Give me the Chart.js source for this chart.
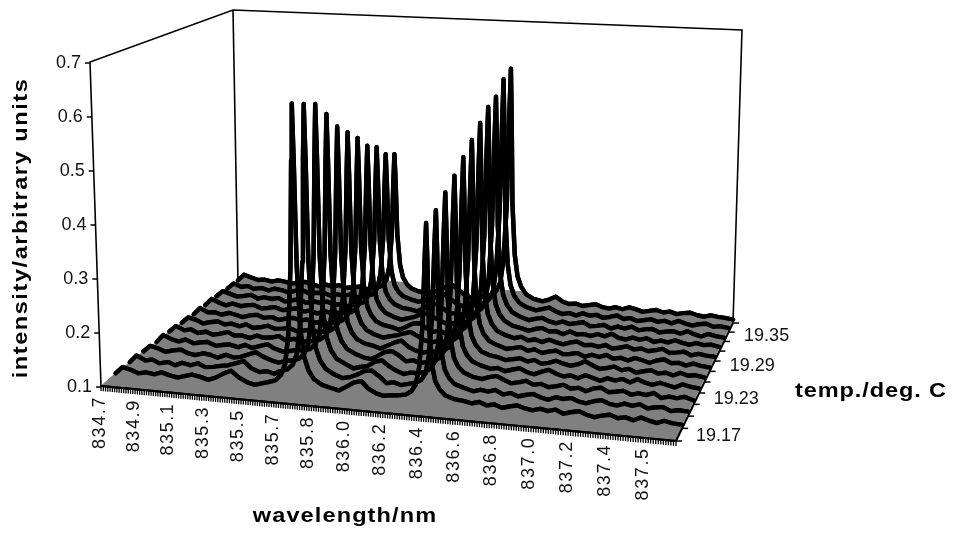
<!DOCTYPE html>
<html><head><meta charset="utf-8">
<style>html,body{margin:0;padding:0;background:#fff}canvas{display:block}</style>
<script src="https://cdn.jsdelivr.net/npm/chart.js@4"></script>
</head><body><canvas id="c" width="954" height="536"></canvas>
<script>
const wavelengths=[834.70,834.74,834.79,834.83,834.87,834.92,834.96,835.00,835.05,835.09,835.13,835.18,835.22,835.26,835.31,835.35,835.39,835.44,835.48,835.52,
835.55,835.595,835.625,835.648,835.666,835.683,835.693,835.70,835.707,835.717,835.734,835.752,835.775,835.805,835.85,
835.90,835.94,835.98,836.02,836.06,836.10,836.14,836.18,836.22,
836.255,836.30,836.33,836.353,836.371,836.388,836.398,836.405,836.412,836.422,836.439,836.457,836.48,836.51,836.555,
836.61,836.65,836.69,836.73,836.77,836.81,836.85,836.89,836.93,836.97,837.01,837.05,837.09,837.13,837.17,837.21,837.25,837.29,837.33,837.37,837.41,837.45,837.49,837.53,837.57,837.61,837.65,837.69,837.74];
const temperatures=[19.17,19.19,19.21,19.23,19.25,19.27,19.29,19.31,19.33,19.35,19.37,19.39];
const wavelengthTicks=["834.7","834.9","835.1","835.3","835.5","835.7","835.8","836.0","836.2","836.4","836.6","836.8","837.0","837.2","837.4","837.5"];
const temperatureTicks=["19.17",null,null,"19.23",null,null,"19.29",null,null,"19.35",null,null];
const intensityTicks=[0.1,0.2,0.3,0.4,0.5,0.6,0.7];

const row00=[.1,.1,.1,.1,.1,.1,.1,.1,.1,.1,.1,.1,.1,.1,.1,.1,.1,.1,.1,.1,.1,.1,
.1,.1,.1,.1,.1,.1,.1,.1,.1,.1,.1,.1,.1,.1,.1,.1,.1,.1,.1,.1,.1,.1,
.1,.1,.1,.1,.1,.1,.1,.1,.1,.1,.1,.1,.1,.1,.1,.1,.1,.1,.1,.1,.1,.1,
.1,.1,.1,.1,.1,.1,.1,.1,.1,.1,.1,.1,.1,.1,.1,.1,.1,.1,.1,.1,.1,.1];
const row01=[.103,.116,.112,.107,.110,.108,.113,.109,.106,.110,.114,.111,.107,.112,.122,.128,.117,.109,.106,.110,
.113,.118,.129,.15,.202,.328,.526,.631,.526,.328,.213,.166,.142,.126,.117,
.113,.110,.118,.127,.131,.118,.111,.108,.110,
.111,.114,.121,.134,.166,.242,.364,.428,.364,.242,.172,.143,.129,.119,.114,
.112,.109,.113,.108,.111,.106,.110,.113,.109,.107,.111,.108,.112,.106,.110,.113,.108,.105,.109,.112,.107,.110,.106,.112,.108,.105,.110,.107,.106];
const row02=[.104,.118,.110,.113,.107,.111,.106,.112,.109,.114,.108,.110,.113,.115,.121,.126,.114,.108,.111,.107,
.113,.118,.128,.149,.2,.322,.516,.618,.516,.322,.21,.164,.141,.126,.117,
.111,.114,.120,.128,.130,.121,.109,.112,.108,
.111,.115,.121,.134,.167,.246,.37,.436,.37,.246,.174,.144,.129,.119,.114,
.109,.113,.111,.115,.108,.112,.107,.111,.114,.109,.106,.112,.110,.113,.108,.106,.111,.114,.109,.107,.112,.109,.113,.107,.110,.112,.106,.109,.108];
const row03=[.105,.117,.113,.108,.112,.115,.109,.107,.112,.110,.106,.113,.109,.111,.118,.123,.116,.110,.107,.112,
.113,.118,.128,.148,.198,.317,.506,.606,.506,.317,.208,.163,.14,.125,.117,
.109,.113,.116,.125,.129,.119,.112,.107,.111,
.111,.115,.122,.136,.17,.253,.385,.454,.385,.253,.177,.146,.13,.12,.114,
.111,.116,.119,.113,.108,.111,.115,.109,.112,.107,.110,.114,.108,.111,.106,.112,.115,.108,.110,.113,.107,.111,.109,.114,.106,.110,.108,.112,.107];
const row04=[.104,.119,.112,.109,.114,.108,.111,.113,.107,.110,.112,.108,.114,.109,.115,.119,.112,.107,.110,.113,
.113,.117,.127,.145,.192,.304,.482,.575,.482,.304,.201,.159,.138,.124,.116,
.110,.108,.115,.124,.127,.120,.110,.113,.109,
.112,.115,.123,.137,.173,.26,.398,.471,.398,.26,.181,.148,.132,.121,.115,
.110,.113,.108,.112,.116,.110,.107,.113,.118,.112,.108,.111,.107,.114,.110,.106,.112,.109,.113,.108,.115,.110,.107,.112,.109,.106,.113,.110,.108];
const row05=[.106,.118,.111,.114,.108,.112,.107,.110,.115,.109,.111,.107,.113,.110,.112,.116,.109,.113,.108,.111,
.112,.117,.125,.142,.185,.289,.452,.538,.452,.289,.194,.155,.136,.123,.116,
.113,.109,.116,.123,.128,.117,.111,.108,.112,
.112,.116,.123,.139,.177,.27,.416,.493,.416,.27,.185,.15,.133,.121,.115,
.112,.108,.111,.114,.109,.113,.107,.110,.115,.111,.108,.112,.119,.113,.107,.110,.114,.108,.112,.106,.110,.113,.108,.111,.107,.113,.109,.111,.108];
const row06=[.105,.117,.113,.107,.111,.114,.109,.112,.108,.113,.107,.110,.114,.109,.111,.113,.108,.111,.114,.109,
.112,.116,.124,.14,.181,.279,.433,.514,.433,.279,.189,.153,.134,.122,.115,
.110,.114,.117,.122,.126,.119,.112,.109,.113,
.112,.116,.124,.14,.181,.278,.432,.513,.432,.278,.189,.153,.134,.122,.115,
.109,.112,.115,.109,.113,.107,.111,.114,.108,.110,.113,.107,.112,.109,.114,.108,.111,.107,.113,.110,.106,.112,.115,.109,.111,.107,.112,.109,.107];
const row07=[.104,.118,.110,.112,.108,.113,.110,.107,.112,.114,.109,.112,.107,.111,.114,.110,.113,.108,.111,.107,
.112,.116,.123,.139,.177,.268,.414,.49,.414,.268,.184,.15,.133,.121,.115,
.112,.108,.115,.123,.125,.116,.110,.113,.108,
.112,.117,.125,.142,.185,.287,.449,.534,.449,.287,.193,.155,.136,.123,.116,
.111,.115,.109,.112,.108,.114,.110,.107,.112,.115,.109,.111,.108,.113,.107,.110,.114,.109,.112,.108,.111,.115,.108,.110,.113,.107,.111,.109,.108];
const row08=[.105,.119,.112,.108,.113,.109,.112,.114,.108,.110,.113,.108,.111,.114,.109,.112,.107,.113,.110,.112,
.112,.115,.122,.136,.172,.256,.39,.461,.39,.256,.179,.147,.131,.12,.114,
.109,.113,.117,.124,.127,.118,.112,.108,.111,
.112,.117,.126,.144,.188,.295,.465,.554,.465,.295,.197,.157,.137,.124,.116,
.112,.108,.113,.116,.110,.112,.107,.114,.109,.111,.108,.113,.110,.116,.109,.107,.112,.109,.113,.107,.111,.108,.114,.110,.107,.112,.109,.111,.108];
const row09=[.106,.118,.113,.109,.111,.115,.108,.112,.110,.113,.107,.111,.114,.108,.112,.110,.114,.109,.111,.108,
.111,.115,.121,.135,.169,.25,.378,.445,.378,.25,.175,.145,.13,.12,.114,
.112,.109,.116,.125,.128,.119,.110,.113,.109,
.113,.117,.126,.144,.19,.299,.472,.563,.472,.299,.199,.158,.138,.124,.116,
.110,.114,.117,.111,.108,.113,.109,.112,.115,.108,.110,.113,.107,.112,.109,.114,.108,.111,.113,.107,.110,.112,.108,.114,.109,.106,.112,.109,.107];
const row10=[.105,.117,.111,.114,.109,.112,.108,.113,.111,.107,.112,.114,.109,.111,.113,.108,.112,.110,.114,.109,
.111,.114,.12,.133,.164,.238,.355,.417,.355,.238,.17,.142,.128,.119,.114,
.110,.114,.118,.126,.130,.120,.111,.108,.112,
.113,.118,.127,.146,.194,.31,.492,.588,.492,.31,.204,.161,.139,.125,.117,
.112,.116,.120,.113,.109,.112,.108,.114,.110,.113,.108,.111,.115,.109,.112,.107,.110,.113,.109,.112,.108,.114,.110,.107,.111,.113,.108,.110,.108];
const row11=[.106,.119,.114,.110,.112,.109,.113,.111,.108,.112,.114,.110,.107,.112,.109,.113,.108,.111,.113,.109,
.111,.114,.12,.132,.161,.232,.345,.404,.345,.232,.167,.141,.127,.118,.113,
.112,.115,.120,.128,.132,.122,.112,.109,.113,
.113,.118,.128,.147,.196,.314,.501,.599,.501,.314,.206,.162,.14,.125,.117,
.113,.118,.125,.116,.112,.114,.110,.113,.116,.111,.109,.113,.110,.115,.112,.108,.111,.114,.110,.113,.109,.112,.114,.110,.108,.112,.110,.109,.107];
const rows=[row00,row01,row02,row03,row04,row05,row06,row07,row08,row09,row10,row11];

// Projection of (wavelength, temperature row, intensity) onto the picture plane.
const frame={fl:[101,386],fr:[676,441],bl:[238,283],br:[733,323],tfl:[90,62],tfr:[687,93],tbl:[233,10],tbr:[742,30]};
const nmMin=834.7,nmSpan=3.04,rowMax=11,valMin=.1,valSpan=.6,depthK=.2,widthK=.055,bandTop=.13;
function mix(a,b,t){return a+(b-a)*t}
function plane(a,b,c,d,u,v,i){return mix(mix(a[i],b[i],u),mix(c[i],d[i],u),v)}
function project(nm,row,val){
  const t=(nm-nmMin)/nmSpan, u=t*(1-widthK)/(1-widthK*t);
  const r=row/rowMax, v=r*(1+depthK)/(1+depthK*r);
  const h=(val-valMin)/valSpan, f=frame, out=[];
  for(const i of [0,1]){
    out[i]=mix(plane(f.fl,f.fr,f.bl,f.br,u,v,i),plane(f.tfl,f.tfr,f.tbl,f.tbr,u,v,i),h);
  }
  return {x:out[0],y:out[1]};
}
const nmEnd=nmMin+nmSpan, nmTickStep=nmSpan/16;
const GRAY='#808080';

// The surface is only coloured in its lowest value band: gray up to bandTop, clear above.
const ribbons={id:'ribbons',
  beforeDatasetDraw(chart,args){
    const i=args.index; if(i>=rows.length-1) return;
    const X=chart.scales.x,Y=chart.scales.y,ctx=chart.ctx;
    const pt=(r,k)=>{const p=project(wavelengths[k],r,Math.min(rows[r][k],bandTop));return [X.getPixelForValue(p.x),Y.getPixelForValue(p.y)]};
    ctx.save();ctx.fillStyle=GRAY;ctx.strokeStyle=GRAY;ctx.lineWidth=1;ctx.lineJoin='round';ctx.beginPath();
    wavelengths.forEach((w,k)=>{const q=pt(i+1,k);k?ctx.lineTo(q[0],q[1]):ctx.moveTo(q[0],q[1])});
    for(let k=wavelengths.length-1;k>=0;k--){const q=pt(i,k);ctx.lineTo(q[0],q[1])}
    ctx.closePath();ctx.fill();ctx.stroke();ctx.restore();
    chart.getDatasetMeta(i+1).dataset.draw(ctx,chart.chartArea);
  }};
const axes3d={id:'axes3d',
  beforeDatasetsDraw(chart){
    const ctx=chart.ctx,f=frame,X=chart.scales.x,Y=chart.scales.y;
    const P=p=>[X.getPixelForValue(p[0]),Y.getPixelForValue(p[1])];
    ctx.save();ctx.strokeStyle='#000';ctx.lineWidth=1.6;ctx.lineJoin='miter';
    ctx.beginPath();
    [f.fl,f.tfl,f.tbl,f.tbr,f.br].forEach((p,k)=>{const q=P(p);k?ctx.lineTo(q[0],q[1]):ctx.moveTo(q[0],q[1])});
    ctx.stroke();
    ctx.beginPath();ctx.moveTo(...P(f.tbl));ctx.lineTo(...P(f.bl));ctx.stroke();
    ctx.restore();
  },
  afterDatasetsDraw(chart){
    const ctx=chart.ctx,f=frame;
    ctx.save();ctx.strokeStyle='#000';ctx.fillStyle='#111';
    // floor edges
    ctx.lineWidth=2;ctx.beginPath();ctx.moveTo(...f.fr);ctx.lineTo(...f.br);ctx.stroke();
    ctx.lineWidth=2;ctx.beginPath();ctx.moveTo(...f.fl);ctx.lineTo(...f.fr);ctx.stroke();
    // dense wavelength ticks
    ctx.lineWidth=1.3;ctx.beginPath();
    for(let k=0;k<=240;k++){const p=project(nmMin+nmSpan*k/240,0,valMin);ctx.moveTo(p.x,p.y);ctx.lineTo(p.x,p.y+5)}
    ctx.stroke();
    // intensity axis
    ctx.font='18px "Liberation Sans"';ctx.textAlign='right';ctx.textBaseline='middle';
    ctx.lineWidth=1.5;
    intensityTicks.forEach(v=>{
      const p=project(nmMin,0,v);
      ctx.beginPath();ctx.moveTo(p.x-5,p.y+1);ctx.lineTo(p.x,p.y+1);ctx.stroke();
      ctx.fillText(v.toFixed(1),p.x-9,p.y+1);
    });
    // temperature axis
    ctx.textAlign='left';
    temperatures.forEach((t,r)=>{
      const p=project(nmEnd,r,valMin);
      ctx.beginPath();ctx.moveTo(p.x,p.y);ctx.lineTo(p.x+6,p.y);ctx.stroke();
      if(temperatureTicks[r])ctx.fillText(temperatureTicks[r],p.x+20,p.y-5);
    });
    // wavelength labels
    ctx.textAlign='right';ctx.letterSpacing='1.6px';
    wavelengthTicks.forEach((s,i)=>{
      const p=project(nmMin+nmTickStep*i,0,valMin);
      const nudge=i>7?(i-7)*.75:0;
      ctx.save();ctx.translate(p.x-1+nudge,p.y+10);ctx.rotate(-Math.PI/2);ctx.fillText(s,0,0);ctx.restore();
    });
    // axis titles
    ctx.fillStyle='#000';ctx.font='bold 21px "Liberation Sans"';ctx.textAlign='center';
    const title=(s,x,y,rot,gap)=>{ctx.save();ctx.translate(x,y);ctx.rotate(rot);ctx.scale(1.12,1);ctx.letterSpacing=gap+'px';ctx.fillText(s,0,0);ctx.restore()};
    title('wavelength/nm',345,516,0,1);
    title('temp./deg. C',871,391,0,.8);
    title('intensity/arbitrary units',21,228,-Math.PI/2,1.4);
    ctx.restore();
  }};

new Chart(document.getElementById('c'),{
  type:'line',
  data:{datasets:rows.map((vals,r)=>({
    label:String(temperatures[r]),
    data:vals.map((v,k)=>project(wavelengths[k],r,v)),
    borderColor:'#000',borderWidth:r===0?2.2:4.4,pointRadius:0,tension:0,fill:false,
    borderJoinStyle:'round',borderCapStyle:'round',clip:false
  }))},
  options:{responsive:false,animation:false,parsing:true,
    layout:{padding:0},
    plugins:{legend:{display:false},tooltip:{enabled:false},title:{display:false}},
    scales:{
      x:{type:'linear',min:0,max:954,display:false},
      y:{type:'linear',min:0,max:536,reverse:true,display:false}
    }},
  plugins:[ribbons,axes3d]
});
</script></body></html>
